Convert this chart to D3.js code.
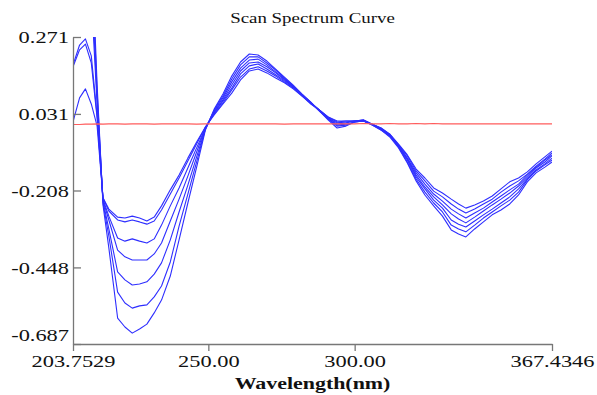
<!DOCTYPE html>
<html>
<head>
<meta charset="utf-8">
<script src="https://cdn.jsdelivr.net/npm/d3@7"></script>
<style>
  body { margin: 0; background: #fff; }
  text { font-family: "Liberation Serif", "Times New Roman", serif; fill: #111; }
</style>
</head>
<body>
<script>
// Wavelength grid (nm)
var wavelengths = [203.7529, 206, 208, 210, 212, 214, 216, 219, 221.5, 224,
  226.5, 229, 231.5, 234, 237, 240, 243, 246, 249, 252,
  255, 258, 261, 264, 267, 270, 273, 276, 279, 282,
  285, 288, 291, 294, 297, 300, 303, 306, 309, 312,
  315, 318, 321, 324, 327, 330, 333, 335.5, 338, 341,
  344, 347, 350, 353, 356, 359, 362, 365, 367.4346];

// Scans, smallest amplitude first
var scan1 = [0.006, 0.081, 0.109, 0.062, -0.007, -0.231, -0.266, -0.291, -0.294, -0.288,
  -0.294, -0.303, -0.291, -0.256, -0.206, -0.160, -0.107, -0.057, -0.010, 0.028,
  0.062, 0.096, 0.137, 0.165, 0.171, 0.159, 0.143, 0.128, 0.109, 0.087,
  0.062, 0.043, 0.021, 0.009, 0.009, 0.009, 0.012, -0.001, -0.013, -0.032,
  -0.063, -0.097, -0.141, -0.169, -0.200, -0.216, -0.235, -0.250, -0.263, -0.253,
  -0.241, -0.225, -0.203, -0.181, -0.169, -0.150, -0.125, -0.103, -0.085];
var scan2 = [0.178, 0.231, 0.249, 0.190, 0.018, -0.231, -0.272, -0.300, -0.306, -0.300,
  -0.306, -0.313, -0.303, -0.269, -0.219, -0.169, -0.116, -0.063, -0.010, 0.031,
  0.065, 0.106, 0.146, 0.171, 0.178, 0.165, 0.149, 0.131, 0.112, 0.087,
  0.065, 0.043, 0.021, 0.006, 0.009, 0.009, 0.012, -0.001, -0.013, -0.032,
  -0.066, -0.100, -0.147, -0.178, -0.210, -0.228, -0.250, -0.266, -0.278, -0.266,
  -0.250, -0.235, -0.213, -0.194, -0.178, -0.157, -0.132, -0.110, -0.091];
var scan3 = [0.184, 0.246, 0.265, 0.212, 0.025, -0.235, -0.288, -0.356, -0.366, -0.359,
  -0.366, -0.372, -0.359, -0.316, -0.256, -0.200, -0.138, -0.075, -0.013, 0.034,
  0.071, 0.112, 0.156, 0.181, 0.187, 0.171, 0.153, 0.134, 0.115, 0.090,
  0.065, 0.043, 0.018, 0.003, 0.006, 0.009, 0.012, -0.001, -0.016, -0.035,
  -0.066, -0.107, -0.153, -0.188, -0.219, -0.241, -0.266, -0.281, -0.294, -0.278,
  -0.263, -0.244, -0.225, -0.206, -0.188, -0.160, -0.135, -0.113, -0.097];
var scan4 = [0.33, 0.42, 0.46, 0.40, 0.06, -0.238, -0.300, -0.394, -0.415, -0.425,
  -0.425, -0.425, -0.406, -0.372, -0.303, -0.235, -0.163, -0.088, -0.013, 0.037,
  0.075, 0.121, 0.165, 0.190, 0.193, 0.178, 0.159, 0.137, 0.115, 0.090,
  0.065, 0.043, 0.018, -0.001, 0.003, 0.009, 0.009, -0.001, -0.016, -0.035,
  -0.069, -0.110, -0.160, -0.197, -0.228, -0.253, -0.281, -0.297, -0.309, -0.291,
  -0.272, -0.253, -0.235, -0.216, -0.194, -0.166, -0.138, -0.119, -0.100];
var scan5 = [0.38, 0.48, 0.53, 0.46, 0.08, -0.241, -0.328, -0.462, -0.487, -0.503,
  -0.500, -0.493, -0.469, -0.434, -0.362, -0.275, -0.191, -0.103, -0.016, 0.040,
  0.081, 0.131, 0.174, 0.199, 0.202, 0.184, 0.162, 0.140, 0.118, 0.090,
  0.065, 0.040, 0.015, -0.004, -0.001, 0.006, 0.009, -0.001, -0.016, -0.038,
  -0.072, -0.113, -0.166, -0.203, -0.238, -0.263, -0.300, -0.313, -0.322, -0.303,
  -0.284, -0.266, -0.247, -0.228, -0.203, -0.172, -0.144, -0.125, -0.107];
var scan6 = [0.43, 0.54, 0.60, 0.52, 0.10, -0.247, -0.350, -0.525, -0.559, -0.575,
  -0.568, -0.565, -0.540, -0.506, -0.431, -0.319, -0.219, -0.119, -0.016, 0.043,
  0.087, 0.140, 0.184, 0.209, 0.209, 0.190, 0.168, 0.143, 0.118, 0.093,
  0.068, 0.040, 0.015, -0.007, -0.004, 0.006, 0.009, -0.004, -0.019, -0.038,
  -0.072, -0.119, -0.172, -0.213, -0.247, -0.275, -0.316, -0.328, -0.337, -0.316,
  -0.294, -0.275, -0.256, -0.238, -0.213, -0.175, -0.147, -0.128, -0.113];
var scan7 = [0.48, 0.60, 0.67, 0.58, 0.12, -0.253, -0.387, -0.606, -0.634, -0.653,
  -0.640, -0.625, -0.590, -0.550, -0.475, -0.362, -0.247, -0.135, -0.019, 0.046,
  0.093, 0.149, 0.193, 0.218, 0.215, 0.196, 0.171, 0.146, 0.121, 0.093,
  0.068, 0.040, 0.012, -0.013, -0.007, 0.006, 0.009, -0.004, -0.019, -0.041,
  -0.075, -0.122, -0.178, -0.222, -0.256, -0.288, -0.331, -0.344, -0.353, -0.328,
  -0.306, -0.284, -0.269, -0.250, -0.222, -0.181, -0.153, -0.135, -0.119];

// Blank / baseline scan (red)
var baseline = [-0.002, -0.002, -0.001, -0.001, 0.000, -0.001, 0.000, 0.000, -0.001, 0.000,
  0.000, 0.000, -0.001, 0.000, 0.000, 0.000, 0.000, -0.001, 0.000, 0.000,
  0.000, 0.000, 0.000, 0.000, 0.000, 0.000, 0.000, -0.001, 0.000, 0.000,
  0.000, 0.000, 0.000, 0.000, 0.000, 0.000, 0.001, 0.000, 0.000, 0.001,
  0.000, 0.000, 0.001, 0.000, 0.001, 0.000, 0.000, 0.000, 0.000, 0.000,
  0.000, 0.000, 0.000, 0.000, 0.000, 0.000, 0.000, 0.000, 0.000];

var scans = [scan1, scan2, scan3, scan4, scan5, scan6, scan7];

// Axis ticks
var yTicks = [0.271, 0.031, -0.208, -0.448, -0.687];
var yTickLabels = ["0.271", "0.031", "-0.208", "-0.448", "-0.687"];
var xTicks = [203.7529, 250, 300, 367.4346];
var xTickLabels = ["203.7529", "250.00", "300.00", "367.4346"];

var width = 597, height = 395;
var plotLeft = 73, plotRight = 552, plotTop = 37, plotBottom = 344;
var stretch = 1.4; // glyphs in the reference are wide

var svg = d3
  .select("body")
  .append("svg")
  .attr("width", width)
  .attr("height", height);

var x = d3.scaleLinear().domain([203.7529, 367.4346]).range([plotLeft, plotRight]);
var y = d3.scaleLinear().domain([0.271, -0.687]).range([plotTop, plotBottom]);

svg.append("defs")
  .append("clipPath")
  .attr("id", "plot")
  .append("rect")
  .attr("x", plotLeft)
  .attr("y", plotTop)
  .attr("width", plotRight - plotLeft)
  .attr("height", plotBottom - plotTop);

// Title
svg.append("text")
  .attr("transform", "translate(" + (plotLeft + plotRight) / 2 + ",23) scale(1.26,1)")
  .attr("text-anchor", "middle")
  .style("font-size", "15px")
  .text("Scan Spectrum Curve");

// Scans
var line = d3.line()
  .x(function (d, i) { return x(wavelengths[i]); })
  .y(function (d) { return y(d); });

var plot = svg.append("g").attr("clip-path", "url(#plot)");

plot.selectAll(".scan")
  .data(scans)
  .enter()
  .append("path")
  .attr("class", "scan")
  .attr("fill", "none")
  .attr("stroke", "#2e2eff")
  .attr("stroke-width", 1.1)
  .attr("stroke-linejoin", "round")
  .attr("d", line);

plot.append("path")
  .datum(baseline)
  .attr("fill", "none")
  .attr("stroke", "#ff5c5c")
  .attr("stroke-width", 1.2)
  .attr("d", line);

// Y axis, ticks point inward
var yAxis = svg.append("g")
  .attr("transform", "translate(" + plotLeft + ",0)")
  .call(d3.axisLeft(y)
    .tickValues(yTicks)
    .tickFormat(function (d, i) { return yTickLabels[i]; })
    .tickSizeInner(-8)
    .tickSizeOuter(0));

yAxis.select(".domain").attr("stroke", "#777").attr("stroke-width", 1.3);
yAxis.selectAll(".tick line").attr("stroke", "#777").attr("stroke-width", 1.3);
yAxis.selectAll(".tick text")
  .attr("x", 0)
  .attr("dy", "0.35em")
  .attr("text-anchor", "end")
  .attr("fill", "#111")
  .style("font-size", "16px")
  .style("font-family", "Liberation Serif, serif")
  .attr("transform", function (d, i) {
    var shift = i === yTicks.length - 1 ? -9 : 0;
    return "translate(-4," + shift + ") scale(" + stretch + ",1)";
  });

// X axis, ticks point down
var xAxis = svg.append("g")
  .attr("transform", "translate(0," + plotBottom + ")")
  .call(d3.axisBottom(x)
    .tickValues(xTicks)
    .tickFormat(function (d, i) { return xTickLabels[i]; })
    .tickSizeInner(7)
    .tickSizeOuter(0));

xAxis.select(".domain").attr("stroke", "#777").attr("stroke-width", 1.3);
xAxis.selectAll(".tick line").attr("stroke", "#777").attr("stroke-width", 1.3);
xAxis.selectAll(".tick text")
  .attr("y", 0)
  .attr("dy", 0)
  .attr("fill", "#111")
  .style("font-size", "16px")
  .style("font-family", "Liberation Serif, serif")
  .attr("transform", "translate(0,23) scale(" + stretch + ",1)");

// X label
svg.append("text")
  .attr("transform", "translate(" + (plotLeft + plotRight) / 2 + ",389) scale(1.37,1)")
  .attr("text-anchor", "middle")
  .style("font-size", "16px")
  .style("font-weight", "bold")
  .text("Wavelength(nm)");
</script>
</body>
</html>
